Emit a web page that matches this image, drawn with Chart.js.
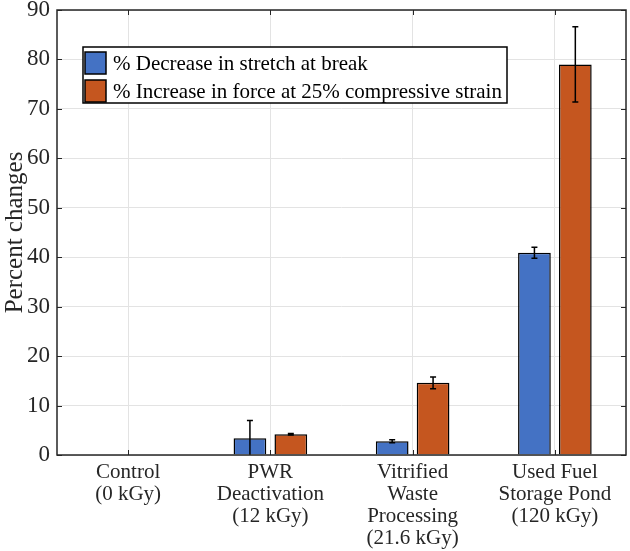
<!DOCTYPE html>
<html lang="en">
<head>
    <meta charset="UTF-8">
    <title>Percent changes</title>
    <script src="https://cdn.jsdelivr.net/npm/chart.js"></script>
    <style>
        body { margin: 0; padding: 0; background: #ffffff; }
        #wrap { width: 630px; height: 551px; }
    </style>
</head>
<body>
    <div id="wrap"><canvas id="barChart" width="630" height="551"></canvas></div>

    <script>
        // data
        const categories = [
            ["Control", "(0 kGy)"],
            ["PWR", "Deactivation", "(12 kGy)"],
            ["Vitrified", "Waste", "Processing", "(21.6 kGy)"],
            ["Used Fuel", "Storage Pond", "(120 kGy)"]
        ];
        const stretchDecrease = [0, 3.4, 2.8, 40.9];
        const stretchErr = [0, 3.6, 0.3, 1.1];
        const forceIncrease = [0, 4.2, 14.6, 79.0];
        const forceErr = [0, 0.15, 1.2, 7.6];
        const seriesLabels = ["% Decrease in stretch at break", "% Increase in force at 25% compressive strain"];
        const yTicks = [0, 10, 20, 30, 40, 50, 60, 70, 80, 90];

        const serif = "'Liberation Serif', 'DejaVu Serif', serif";
        const blue = "#4472c4";
        const orange = "#c5561f";

        // error bars, inward ticks, box and legend drawn on top
        const extras = {
            id: "extras",
            afterDatasetsDraw(chart) {
                const ctx = chart.ctx;
                const area = chart.chartArea;
                const ys = chart.scales.y;
                const xs = chart.scales.x;
                ctx.save();

                // error bars
                ctx.strokeStyle = "#000";
                ctx.lineWidth = 1.5;
                chart.data.datasets.forEach((ds, i) => {
                    const meta = chart.getDatasetMeta(i);
                    meta.data.forEach((bar, j) => {
                        const e = ds.errors[j];
                        if (!e) return;
                        const v = ds.data[j];
                        const top = ys.getPixelForValue(v + e);
                        const bot = Math.min(ys.getPixelForValue(v - e), area.bottom);
                        ctx.beginPath();
                        ctx.moveTo(bar.x, top); ctx.lineTo(bar.x, bot);
                        ctx.moveTo(bar.x - 3, top); ctx.lineTo(bar.x + 3, top);
                        if (bot < area.bottom) { ctx.moveTo(bar.x - 3, bot); ctx.lineTo(bar.x + 3, bot); }
                        ctx.stroke();
                    });
                });

                // inward tick marks
                ctx.strokeStyle = "#262626";
                ctx.lineWidth = 1;
                yTicks.forEach(t => {
                    const y = Math.round(ys.getPixelForValue(t)) + 0.5;
                    ctx.beginPath();
                    ctx.moveTo(area.left, y); ctx.lineTo(area.left + 5, y);
                    ctx.moveTo(area.right, y); ctx.lineTo(area.right - 5, y);
                    ctx.stroke();
                });
                categories.forEach((c, i) => {
                    const x = Math.round(xs.getPixelForValue(i)) + 0.5;
                    ctx.beginPath();
                    ctx.moveTo(x, area.bottom); ctx.lineTo(x, area.bottom - 5);
                    ctx.moveTo(x, area.top); ctx.lineTo(x, area.top + 5);
                    ctx.stroke();
                });

                // axes box
                ctx.strokeStyle = "#262626";
                ctx.lineWidth = 1.5;
                ctx.strokeRect(area.left, area.top, area.right - area.left, area.bottom - area.top);

                // legend
                const lx = 83, ly = 47, lw = 424, lh = 56;
                ctx.fillStyle = "#fff";
                ctx.fillRect(lx, ly, lw, lh);
                ctx.strokeStyle = "#000";
                ctx.lineWidth = 1.5;
                ctx.strokeRect(lx, ly, lw, lh);
                ctx.font = "21px " + serif;
                ctx.textBaseline = "middle";
                chart.data.datasets.forEach((ds, i) => {
                    const rowY = ly + 16 + i * 28;
                    ctx.fillStyle = ds.backgroundColor;
                    ctx.fillRect(lx + 2, rowY - 11, 21, 22);
                    ctx.strokeStyle = "#000";
                    ctx.lineWidth = 1.5;
                    ctx.strokeRect(lx + 2, rowY - 11, 21, 22);
                    ctx.fillStyle = "#000";
                    ctx.fillText(ds.label, lx + 30, rowY + 1);
                });
                ctx.restore();
            }
        };

        const ctx = document.getElementById("barChart").getContext("2d");
        const barChart = new Chart(ctx, {
            type: "bar",
            data: {
                labels: categories,
                datasets: [{
                    label: seriesLabels[0],
                    data: stretchDecrease,
                    errors: stretchErr,
                    backgroundColor: blue,
                    borderColor: "#000",
                    borderWidth: 1.5,
                    categoryPercentage: 0.575,
                    barPercentage: 0.8
                }, {
                    label: seriesLabels[1],
                    data: forceIncrease,
                    errors: forceErr,
                    backgroundColor: orange,
                    borderColor: "#000",
                    borderWidth: 1.5,
                    categoryPercentage: 0.575,
                    barPercentage: 0.8
                }]
            },
            options: {
                responsive: false,
                animation: false,
                layout: { padding: { top: 10, right: 4, left: 0, bottom: 0 } },
                plugins: { legend: { display: false }, tooltip: { enabled: false } },
                scales: {
                    x: {
                        grid: { offset: false, color: "#e3e3e3", drawTicks: false },
                        border: { display: false },
                        ticks: {
                            color: "#262626",
                            font: { family: serif, size: 21, lineHeight: 1.04 },
                            padding: 7,
                            maxRotation: 0
                        },
                        afterFit(scale) {
                            scale.height = 96;
                            scale.paddingLeft = 0;
                            scale.paddingRight = 0;
                        }
                    },
                    y: {
                        min: 0,
                        max: 90,
                        grid: { color: "#e3e3e3", drawTicks: false },
                        border: { display: false },
                        ticks: {
                            stepSize: 10,
                            color: "#262626",
                            font: { family: serif, size: 23 },
                            padding: 7
                        },
                        title: {
                            display: true,
                            text: "Percent changes",
                            color: "#262626",
                            font: { family: serif, size: 25 },
                            padding: { top: 0, bottom: 0 }
                        },
                        afterFit(scale) {
                            scale.width = 57;
                            scale.paddingTop = 0;
                            scale.paddingBottom = 0;
                        }
                    }
                }
            },
            plugins: [extras]
        });
    </script>
</body>
</html>
